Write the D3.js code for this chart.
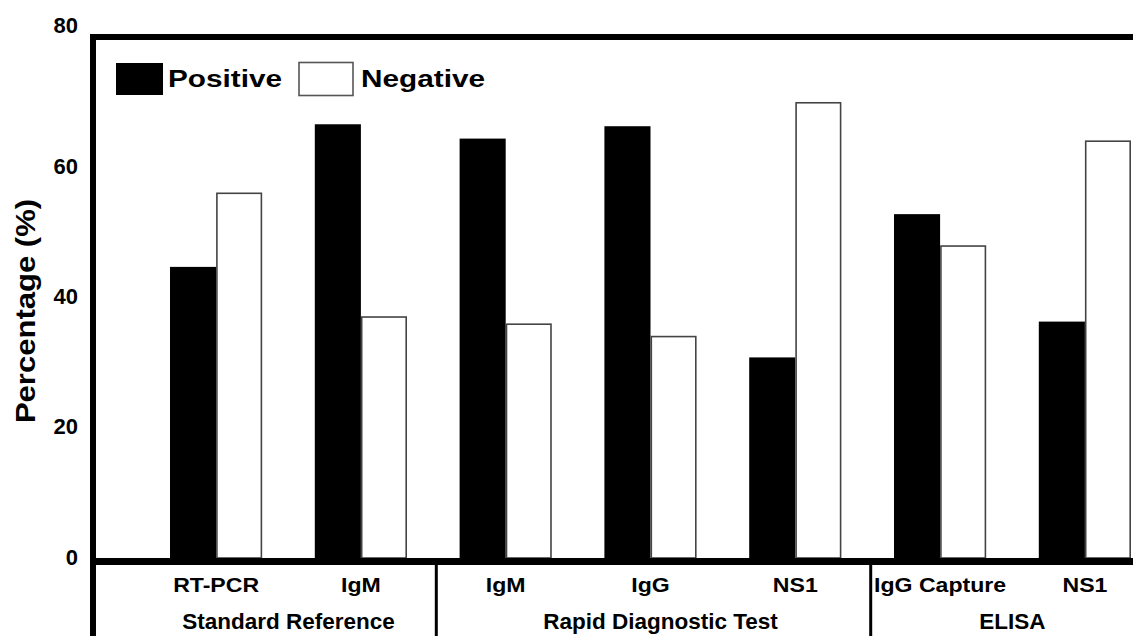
<!DOCTYPE html>
<html>
<head>
<meta charset="utf-8">
<script src="https://cdn.jsdelivr.net/npm/d3@7"></script>
<style>
  html, body { margin: 0; padding: 0; background: #fff; }
  svg { display: block; }
  text { font-family: "Liberation Sans", Arial, Helvetica, sans-serif; font-weight: bold; fill: #000; }
</style>
</head>
<body>
<svg id="chart" width="1133" height="636"></svg>
<script>
// ---- data ----
const categories = ["RT-PCR", "IgM", "IgM", "IgG", "NS1", "IgG Capture", "NS1"];
const categoryGroup = [0, 0, 1, 1, 1, 2, 2];
const groupNames = ["Standard Reference", "Rapid Diagnostic Test", "ELISA"];
const seriesNames = ["Positive", "Negative"];
const positive = [44.7, 66.6, 64.4, 66.3, 30.8, 52.8, 36.3];
const negative = [56.0, 37.0, 35.9, 34.0, 69.9, 47.9, 64.0];
const yTicks = [0, 20, 40, 60, 80];

// ---- layout ----
const W = 1133, H = 636;
const svg = d3.select("#chart");
svg.append("rect").attr("width", W).attr("height", H).attr("fill", "#fff");

const axisX = 93, topY = 37, zeroY = 558;
const x = d3.scaleBand().domain(d3.range(categories.length)).range([170, 1131]).paddingInner(0.3633).paddingOuter(0);
const sub = d3.scaleBand().domain([0, 1]).range([0, x.bandwidth()]);
const y = d3.scaleLinear().domain([0, 80]).range([zeroY, topY]);

const series = [
  { name: seriesNames[0], values: positive, fill: "#000", stroke: "none" },
  { name: seriesNames[1], values: negative, fill: "#fff", stroke: "#444" }
];

// bars
series.forEach((s, si) => {
  svg.append("g").selectAll("rect").data(s.values).join("rect")
    .attr("x", (d, i) => x(i) + sub(si) + (si === 1 ? 0.8 : 0))
    .attr("y", d => y(d))
    .attr("width", sub.bandwidth() - (si === 1 ? 1.6 : 0))
    .attr("height", d => y(0) - y(d))
    .attr("fill", s.fill)
    .attr("stroke", s.stroke)
    .attr("stroke-width", 1.6);
});

// frame lines
svg.append("line").attr("x1", axisX - 3).attr("x2", W).attr("y1", topY).attr("y2", topY)
  .attr("stroke", "#000").attr("stroke-width", 6);
svg.append("line").attr("x1", axisX).attr("x2", axisX).attr("y1", topY - 3).attr("y2", H)
  .attr("stroke", "#000").attr("stroke-width", 6);
svg.append("line").attr("x1", axisX - 3).attr("x2", W).attr("y1", zeroY + 3.5).attr("y2", zeroY + 3.5)
  .attr("stroke", "#000").attr("stroke-width", 7);

// group dividers
for (let gi = 0; gi < groupNames.length - 1; gi++) {
  const idx = categoryGroup.map((g, i) => g === gi ? i : -1).filter(i => i >= 0);
  const last = idx[idx.length - 1];
  const xd = (x(last) + x.bandwidth() + x(last + 1)) / 2 + 3;
  svg.append("line").attr("x1", xd).attr("x2", xd).attr("y1", zeroY + 3).attr("y2", H)
    .attr("stroke", "#000").attr("stroke-width", 3);
}

// y axis ticks
const yAxis = d3.axisLeft(y).tickValues(yTicks).tickSize(0).tickPadding(15);
const ga = svg.append("g").attr("transform", `translate(${axisX},0)`).call(yAxis);
ga.select(".domain").remove();
ga.selectAll("text")
  .style("font-family", '"Liberation Sans", Arial, sans-serif')
  .style("font-weight", "bold")
  .style("font-size", "22px")
  .attr("fill", "#000")
  .attr("dy", d => d === 80 ? "-0.22em" : "0.28em");

// y title
svg.append("text")
  .attr("transform", "translate(35,311) rotate(-90) scale(1.15,1)")
  .attr("text-anchor", "middle")
  .style("font-size", "27px")
  .text("Percentage (%)");

// category labels
svg.append("g").selectAll("text").data(categories).join("text")
  .attr("transform", (d, i) => `translate(${x(i) + x.bandwidth() / 2},592) scale(1.1,1)`)
  .attr("text-anchor", "middle")
  .style("font-size", "21px")
  .text(d => d);

// group labels
svg.append("g").selectAll("text").data(groupNames).join("text")
  .attr("x", (d, gi) => d3.mean(categoryGroup.map((g, i) => g === gi ? x(i) + x.bandwidth() / 2 : null).filter(v => v !== null)) + (gi === 1 ? 10 : 0))
  .attr("y", 629)
  .attr("text-anchor", "middle")
  .style("font-size", "22.5px")
  .text(d => d);

// legend
const legendPos = [{ bx: 116, by: 63, bw: 47, bh: 32, tx: 168 }, { bx: 299, by: 62.5, bw: 54, bh: 33, tx: 361 }];
const lg = svg.append("g").selectAll("g").data(series).join("g");
lg.append("rect")
  .attr("x", (d, i) => legendPos[i].bx).attr("y", (d, i) => legendPos[i].by)
  .attr("width", (d, i) => legendPos[i].bw).attr("height", (d, i) => legendPos[i].bh)
  .attr("fill", d => d.fill).attr("stroke", d => d.stroke === "none" ? "none" : "#555").attr("stroke-width", 1.6);
lg.append("text")
  .attr("transform", (d, i) => `translate(${legendPos[i].tx},87) scale(1.24,1)`)
  .style("font-size", "24px")
  .text(d => d.name);
</script>
</body>
</html>
